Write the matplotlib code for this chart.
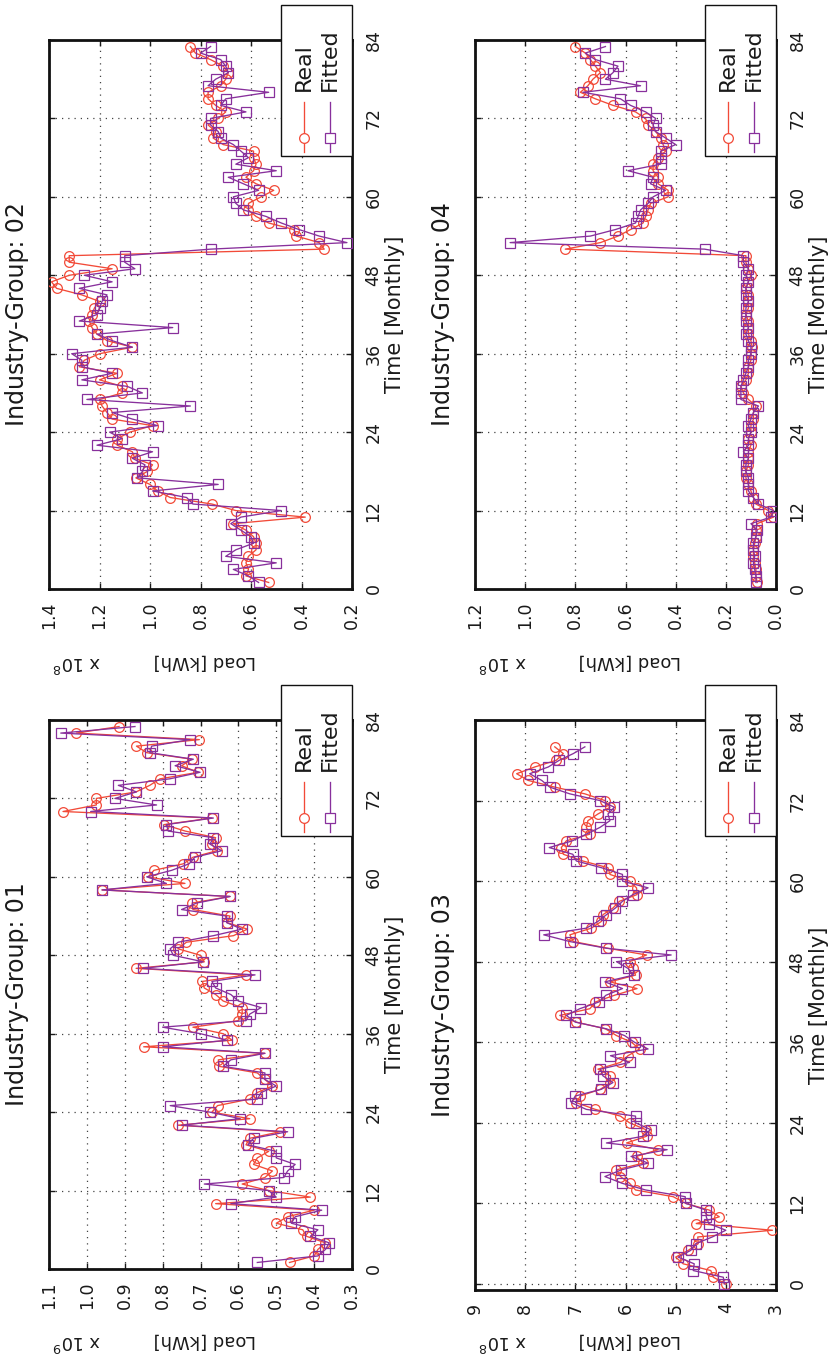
import matplotlib
matplotlib.use("Agg")
import matplotlib.pyplot as plt
from matplotlib.lines import Line2D
from matplotlib.patches import Rectangle

# ---------------- data ----------------
months = list(range(1, 84))          # panels 01, 02, 04
months_03 = list(range(0, 81))       # panel 03
time_ticks = [0, 12, 24, 36, 48, 60, 72, 84]

real_01 = [0.465, 0.40, 0.39, 0.37, 0.42, 0.43, 0.50, 0.47, 0.40, 0.66,
           0.41, 0.52, 0.59, 0.53, 0.51, 0.56, 0.55, 0.52, 0.58, 0.57,
           0.49, 0.76, 0.57, 0.67, 0.655, 0.57, 0.55, 0.51, 0.53, 0.55,
           0.65, 0.653, 0.53, 0.85, 0.616, 0.64, 0.72, 0.60, 0.59, 0.59,
           0.64, 0.66, 0.69, 0.695, 0.58, 0.87, 0.69, 0.70, 0.76, 0.737,
           0.613, 0.576, 0.63, 0.622, 0.72, 0.722, 0.622, 0.96, 0.741, 0.838,
           0.823, 0.745, 0.72, 0.657, 0.67, 0.66, 0.74, 0.796, 0.67, 1.063,
           0.975, 0.975, 0.87, 0.834, 0.807, 0.706, 0.75, 0.723, 0.842, 0.869,
           0.703, 1.028, 0.915]
fitted_01 = [0.55, 0.39, 0.37, 0.36, 0.41, 0.39, 0.46, 0.45, 0.38, 0.62,
             0.50, 0.52, 0.69, 0.48, 0.47, 0.45, 0.50, 0.50, 0.575, 0.56,
             0.47, 0.75, 0.595, 0.675, 0.78, 0.55, 0.54, 0.50, 0.53, 0.53,
             0.64, 0.62, 0.53, 0.80, 0.63, 0.70, 0.80, 0.58, 0.57, 0.54,
             0.60, 0.62, 0.66, 0.67, 0.556, 0.853, 0.693, 0.772, 0.78, 0.759,
             0.666, 0.591, 0.631, 0.631, 0.75, 0.71, 0.622, 0.96, 0.79, 0.842,
             0.776, 0.73, 0.715, 0.644, 0.675, 0.666, 0.785, 0.79, 0.666, 0.99,
             0.816, 0.926, 0.869, 0.917, 0.781, 0.701, 0.767, 0.719, 0.834, 0.829,
             0.728, 1.069, 0.873]

real_02 = [0.53, 0.62, 0.61, 0.62, 0.61, 0.58, 0.58, 0.59, 0.62, 0.67,
           0.385, 0.66, 0.755, 0.92, 0.97, 1.00, 1.056, 1.01, 0.99, 1.06,
           1.07, 1.13, 1.13, 1.08, 0.99, 1.15, 1.17, 1.19, 1.20, 1.11,
           1.11, 1.20, 1.13, 1.28, 1.26, 1.20, 1.07, 1.17, 1.21, 1.23,
           1.24, 1.23, 1.22, 1.20, 1.27, 1.37, 1.39, 1.32, 1.15, 1.32,
           1.32, 0.31, 0.33, 0.42, 0.43, 0.53, 0.58, 0.61, 0.61, 0.56,
           0.51, 0.58, 0.62, 0.59, 0.58, 0.59, 0.59, 0.71, 0.75, 0.74,
           0.77, 0.73, 0.70, 0.74, 0.77, 0.77, 0.72, 0.70, 0.69, 0.71,
           0.76, 0.82, 0.84]
fitted_02 = [0.57, 0.61, 0.67, 0.50, 0.70, 0.66, 0.59, 0.60, 0.64, 0.68,
             0.64, 0.48, 0.83, 0.855, 0.99, 0.73, 1.05, 1.03, 1.02, 1.07,
             0.99, 1.21, 1.11, 1.16, 0.97, 1.07, 1.15, 0.84, 1.25, 1.03,
             1.09, 1.27, 1.15, 1.27, 1.27, 1.31, 1.07, 1.15, 1.21, 0.91,
             1.28, 1.21, 1.20, 1.19, 1.17, 1.28, 1.15, 1.26, 1.06, 1.10,
             1.10, 0.76, 0.22, 0.33, 0.41, 0.48, 0.54, 0.63, 0.66, 0.67,
             0.57, 0.63, 0.69, 0.50, 0.66, 0.61, 0.64, 0.67, 0.72, 0.73,
             0.76, 0.76, 0.62, 0.72, 0.70, 0.53, 0.77, 0.74, 0.69, 0.70,
             0.72, 0.80, 0.76]

real_03 = [4.0, 4.25, 4.3, 4.85, 5.0, 4.75, 4.55, 4.56, 3.07, 4.59,
           4.13, 4.33, 4.8, 5.05, 5.8, 5.92, 6.1, 6.18, 5.65, 5.78,
           5.35, 5.98, 5.58, 5.6, 5.92, 6.1, 6.6, 6.98, 6.9, 6.5,
           6.3, 6.3, 6.55, 6.1, 5.95, 5.72, 5.88, 6.18, 6.4, 6.98,
           7.31, 6.71, 6.6, 6.22, 5.77, 6.31, 5.8, 5.85, 5.92, 5.58,
           6.35, 7.04, 7.11, 6.68, 6.48, 6.45, 6.25, 6.12, 5.77, 5.78,
           5.92, 6.31, 6.35, 6.85, 7.24, 7.28, 7.18, 6.71, 6.78, 6.75,
           6.55, 6.31, 6.41, 6.81, 7.41, 7.94, 8.17, 7.81, 7.38, 7.24,
           7.41]
fitted_03 = [4.03, 4.05, 4.65, 4.63, 4.95, 4.7, 4.6, 4.27, 4.0, 4.34,
             4.39, 4.39, 4.80, 4.81, 5.6, 6.07, 6.41, 6.08, 5.55, 5.89,
             5.17, 6.38, 5.65, 5.5, 5.8, 5.8, 6.78, 7.08, 7.0, 6.48,
             6.25, 6.45, 6.5, 5.92, 6.3, 5.55, 5.82, 6.02, 6.38, 7.0,
             7.18, 6.91, 6.53, 6.39, 6.06, 6.41, 5.84, 5.95, 6.18, 5.09,
             6.38, 7.11, 7.63, 6.78, 6.55, 6.38, 6.2, 6.06, 5.85, 5.55,
             6.06, 6.06, 6.48, 6.98, 7.05, 7.52, 7.06, 6.78, 6.51, 6.31,
             6.35, 6.22, 6.51, 7.11, 7.51, 7.67, 7.91, 7.54, 7.32, 7.04,
             6.81]

real_04 = [0.075, 0.08, 0.08, 0.085, 0.09, 0.09, 0.085, 0.08, 0.08, 0.075,
           0.01, 0.03, 0.08, 0.09, 0.10, 0.11, 0.12, 0.12, 0.11, 0.11,
           0.11, 0.10, 0.11, 0.10, 0.10, 0.09, 0.09, 0.08, 0.11, 0.13,
           0.14, 0.12, 0.11, 0.11, 0.10, 0.10, 0.095, 0.10, 0.11, 0.11,
           0.11, 0.12, 0.11, 0.11, 0.11, 0.12, 0.11, 0.10, 0.11, 0.12,
           0.12, 0.84, 0.70, 0.63, 0.58, 0.53, 0.52, 0.51, 0.50, 0.43,
           0.43, 0.47, 0.47, 0.49, 0.49, 0.47, 0.44, 0.45, 0.46, 0.48,
           0.51, 0.52, 0.56, 0.65, 0.72, 0.78, 0.75, 0.73, 0.70, 0.72,
           0.74, 0.76, 0.80]
fitted_04 = [0.08, 0.08, 0.085, 0.09, 0.085, 0.09, 0.09, 0.08, 0.075, 0.10,
             0.02, 0.01, 0.07, 0.09, 0.11, 0.11, 0.11, 0.12, 0.12, 0.11,
             0.13, 0.11, 0.11, 0.10, 0.11, 0.10, 0.09, 0.07, 0.14, 0.14,
             0.14, 0.13, 0.12, 0.11, 0.11, 0.10, 0.10, 0.11, 0.12, 0.11,
             0.12, 0.12, 0.12, 0.11, 0.12, 0.12, 0.11, 0.12, 0.11, 0.13,
             0.13, 0.285, 1.06, 0.74, 0.64, 0.56, 0.55, 0.54, 0.51, 0.49,
             0.44, 0.50, 0.49, 0.59, 0.46, 0.46, 0.46, 0.40, 0.44, 0.48,
             0.49, 0.48, 0.52, 0.58, 0.62, 0.77, 0.54, 0.68, 0.65, 0.63,
             0.72, 0.76, 0.68]

load_ticks_01 = [0.3, 0.4, 0.5, 0.6, 0.7, 0.8, 0.9, 1.0, 1.1]
load_ticks_02 = [0.2, 0.4, 0.6, 0.8, 1.0, 1.2, 1.4]
load_ticks_03 = [3, 4, 5, 6, 7, 8, 9]
load_ticks_04 = [0.0, 0.2, 0.4, 0.6, 0.8, 1.0, 1.2]

# ---------------- layout / style ----------------
W, H = 833, 1360
RED = '#F24A38'
PURPLE = '#88309C'
TXT = '#1a1a1a'

fig = plt.figure(figsize=(W / 100, H / 100), dpi=100)
fig.patch.set_facecolor('white')


def fx(px):
    return px / W


def fy(py):
    return 1 - py / H


panels = [
    dict(name='01', real=real_01, fit=fitted_01, t=months, box=(49, 720, 352, 1269),
         ticks=load_ticks_01, fmt='%.1f', exp='9', tlim=(0, 84), label_y=1340),
    dict(name='02', real=real_02, fit=fitted_02, t=months, box=(49, 40, 352, 589),
         ticks=load_ticks_02, fmt='%.1f', exp='8', tlim=(0, 84), label_y=661),
    dict(name='03', real=real_03, fit=fitted_03, t=months_03, box=(475, 720, 776, 1290),
         ticks=load_ticks_03, fmt='%d', exp='8', tlim=(-0.9, 84), label_y=1340),
    dict(name='04', real=real_04, fit=fitted_04, t=months, box=(475, 40, 776, 589),
         ticks=load_ticks_04, fmt='%.1f', exp='8', tlim=(0, 84), label_y=661),
]

for p in panels:
    l, t, r, b = p['box']
    ax = fig.add_axes([fx(l), fy(b), (r - l) / W, (b - t) / H])
    ax.plot(p['real'], p['t'], color=RED, lw=0.95, marker='o', ms=7.0,
            mfc='none', mec=RED, mew=0.9, zorder=3)
    ax.plot(p['fit'], p['t'], color=PURPLE, lw=0.95, marker='s', ms=6.5,
            mfc='none', mec=PURPLE, mew=0.9, zorder=4)
    ticks = p['ticks']
    ax.set_xlim(max(ticks), min(ticks))
    ax.set_ylim(*p['tlim'])
    ax.set_xticks(ticks)
    ax.set_xticklabels([p['fmt'] % v for v in ticks])
    ax.set_yticks(time_ticks)
    ax.set_yticklabels([str(v) for v in time_ticks], va='center')
    ax.tick_params(axis='x', direction='in', top=True, bottom=True, length=4,
                   width=1, labelsize=12.5, labelrotation=90, pad=9, colors=TXT)
    ax.tick_params(axis='y', direction='in', left=True, right=True, labelleft=False,
                   labelright=True, length=4, width=1, labelsize=12.5,
                   labelrotation=90, pad=9, colors=TXT)
    ax.grid(True, color='#444444', ls=(0, (1, 4)), lw=0.9)
    for s in ax.spines.values():
        s.set_linewidth(2.0)
        s.set_color('#111111')

    cy = (t + b) / 2
    fig.text(fx(l - 32), fy(cy), 'Industry-Group: ' + p['name'], rotation=90,
             ha='center', va='center', fontsize=17, color=TXT)
    fig.text(fx(r + 43), fy(cy), 'Time [Monthly]', rotation=90,
             ha='center', va='center', fontsize=15, color=TXT)
    fig.text(fx((l + r) / 2 + 4), fy(p['label_y']), 'Load [kWh]', rotation=180,
             ha='center', va='center', fontsize=13, color=TXT)
    fig.text(fx(l + 28), fy(p['label_y'] + 1), r'x 10$^{%s}$' % p['exp'], rotation=180,
             ha='center', va='center', fontsize=13, color=TXT)

    # legend (rotated, drawn manually)
    top = t - 35
    lw_ = 71
    fig.add_artist(Rectangle((fx(r - lw_), fy(t + 116)), lw_ / W, 151 / H,
                             transform=fig.transFigure, fc='white', ec='#111111',
                             lw=1.0, zorder=5))
    for dx, col, mk, lab in [(48, RED, 'o', 'Real'), (22, PURPLE, 's', 'Fitted')]:
        xx = fx(r - dx)
        fig.add_artist(Line2D([xx, xx], [fy(top + 97), fy(top + 147)], color=col,
                              lw=0.95, transform=fig.transFigure, zorder=6))
        fig.add_artist(Line2D([xx], [fy(top + 133)], color=col, marker=mk, ms=7.0,
                              mfc='white', mec=col, mew=0.9,
                              transform=fig.transFigure, zorder=7))
        fig.text(xx, fy(top + 86), lab, rotation=90, ha='center', va='bottom',
                 fontsize=16, color=TXT, zorder=8)

fig.savefig('out.png', dpi=100, facecolor='white')
